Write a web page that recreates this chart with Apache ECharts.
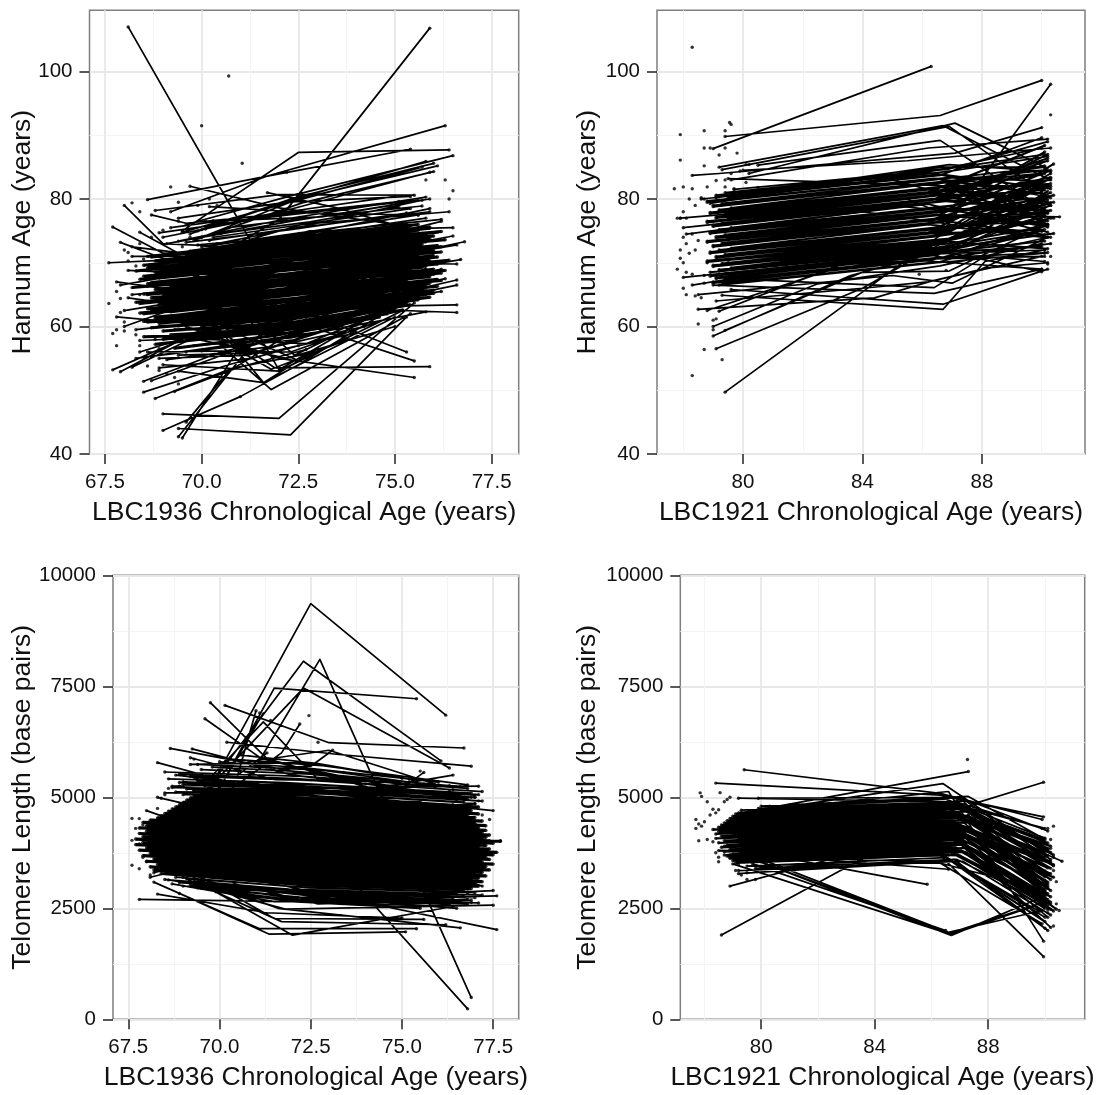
<!DOCTYPE html>
<html><head><meta charset="utf-8">
<script src="https://cdn.jsdelivr.net/npm/echarts@6/dist/echarts.min.js"></script>
<style>html,body{margin:0;padding:0;background:#fff}#c{width:1099px;height:1095px}</style>
</head><body><div id="c"></div>
<script>
// Each row: one participant, [age, value, age, value, (age, value)]
// *Lines = trajectories that stand apart; *Core = the overlapping mass in the middle of each panel
const hannum1936Lines=[
[68.1,107,71.4,72,75,68],[69.5,68,72,76.8,75.9,106.8],[69.2,78,71.7,83.6,76.3,91.5],[69.5,75,72.5,87.3,76.4,87.7],
[68.6,79.9,71.7,83.6,75.4,87.8],[69.6,76,72.3,80.5,76.5,86.8],[69.9,75,72.4,80.2,76,85.6],[69.7,74.5,72.2,79.6,75.8,85.9],
[70,74,72.5,80,76.1,85.2],[69.5,74.8,72.1,79.2,75.7,85],[69.8,73.5,72.6,79.4,76,84.3],[70.1,75.3,72.3,78.4,75.9,84.2],
[68,79,69,73,72.5,72],[69.7,82,72,78.6,75,76],[71.7,81,73.5,78.6,75.5,75],[68.8,78.2,72,80.7,75.5,80.6],
[68.7,77.5,69.6,76.2,72.5,78],[70.2,78.8,72.9,77.8,75.6,77.5],[69.4,77,72.2,79.5,75.4,80.4],[69.2,75.5,72,77.8,75,80.4],
[69,74,71.9,77.5,75.1,79.6],[69.4,73.4,72.2,76.9,75.8,80.3],[69.1,73,72.4,76.6,75.9,80],[68.9,74.7,71.8,77.2,75.6,79.8],
[67.7,75.6,69,71.5,72,71],[67.9,73.2,69.2,70.2,72.4,72],[67.6,70,69.1,70.4,72.4,72],[68.2,72.5,69.4,71.6,72.8,73],
[68.2,71,70,71,73,74],[68.4,74.8,69.4,71.5,72.5,74.5],[76.2,76.5,72.5,71,69.8,66],
[67.7,53.2,69.5,58,72,62],[67.9,52.9,69.8,59,72.5,63],[68.2,53.6,70.2,59.4,72.8,63.6],[68.4,56,70,59,72.4,60],[68.5,51.4,70.5,56,72.6,59],
[68.7,51.5,71,56.5,73,60],[68.5,49.7,70.7,54,72.5,57],[68.8,48.7,70.6,53,72.7,56.4],[69.3,49.8,71,53.7,73,56],
[68.6,56,71.5,56.2,75,63],[68.9,55,71.2,55.5,74.6,62],[69,54,72,53,75.2,62.5],[69.4,53,71.6,51.2,75,61.5],
[70.4,60,71.6,51.2,73,56.5],[70.5,57,71.8,50.1,75.4,62],[69,46.3,72,45.6,75.5,63.7],[69.4,44,72.3,43,75.3,61.5],
[69,43.7,71,49,72.8,55],[69.5,42.5,71,57,74,66],[69.4,42.7,71.4,58,74,63.5],[69.6,45,70.7,53,72.6,60],
[69.8,62,71.9,53.5,75.9,53.7],[69.6,60,72,55,75.5,52],[70,62,73,61.5,75.3,56],[70.4,63,72.8,60,75.5,54.6],
[71,63.7,72,53.2,74.5,62],[71.2,62,72.4,55.5,74,60.2],[70.5,60,72.6,54.4,74.7,62],[70,59.5,71.8,53.3,73.8,58],
[69.5,58.5,72.2,55,75,60],[70,58,72.7,57.3,75.6,64.5],[69.8,57,72.3,58.2,75.8,62.3],[70.2,62,73,63,76.6,62.2],
[70.8,61,73.1,63,76.6,63.4],[70.4,61.8,72.8,62.2,76.2,65.5],[76.6,66.5,73,62,70,60],[76.6,67.3,73.5,63,70.5,59],
[68.1,64.5,71,62,74.8,67],[68,62.5,71.5,66,75.1,71],
[67.9,66.5,71.2,70,76.6,69.8],[67.8,67,70.8,64.5,76.7,70.5],[68,60,70.3,65,76.8,73.3],[68.1,68.8,70.9,68,76.5,74.2],
[67.8,61.5,70.5,60,76.3,67.5],[68.2,65,70,66,76.6,72.8],[68.3,59.5,70.6,61,76.2,69],[76.5,75.5,72.8,75,70,70.5],
[76.4,78,72.6,76,70.3,72],[76.2,76.8,73,74.8,70.2,71.5],[75.9,78.5,73,74.9,70,71.8],[75.7,79.8,72.7,75.8,70.4,73],
[70,72.5,72.9,75,75.6,77.5],[70.2,73.5,72.5,75.5,75.9,78],[69.6,73.2,72.3,75.2,75.3,77.8],[69.9,72.8,73,74.5,75.8,77],
[70.5,74.6,72.8,76.4,75.1,78.8],[70.3,74,72.4,75.8,75.4,78.5],[70.7,75.5,72.7,77,75.7,78.9],[70.1,76.5,73.1,77.2,74.9,79],
[68.7,55.3,71.6,57.5,74.4,60.7],[69.1,54.8,72,57,74.2,60],[69.6,56,72.5,58,74.9,63],[68.4,57.8,70.8,58.4,73.6,60.5],
[68.3,55,70.4,56.8,73.5,59.6],[68.9,53.5,71.3,55,73.9,59.3],[69.4,55.5,71.7,55.9,74,59],[70,56.2,72.3,56,74.5,60.6]
];
const hannum1936Core=[
[69,58,71.8,60,75,62.8],[68.8,57.2,72.1,59.4,74.8,62],[69.3,56.6,71.9,58.6,75.2,62.6],[68.5,58.4,72.4,59,74.6,61.5],
[69.2,58.7,72.5,59.8,75.1,63.2],[69.6,57.8,72.2,60.1,75.4,63.4],
[69,59.3,72.3,60.6,75.3,63.7],[68.7,59.8,72,61.4,75.6,64.2],[69.4,60.1,72.5,61.9,75.9,64.6],[68.9,60.5,72.2,62.3,75.4,64.9],
[68.5,60.8,72.4,62.8,76,65.2],[69.2,61.2,71.9,63,75.7,65.6],[68.8,61.5,72.6,63.5,75.2,65.9],[69.5,61.9,72.1,63.8,76.1,66.3],
[68.4,62.1,72.3,64.2,75.8,66.5],[69.1,62.5,72.7,64.6,75.5,66.9],[68.6,62.8,72,65,76.2,67.2],[69.3,63.2,72.4,65.3,75.3,67.5],
[68.9,63.5,72.2,65.7,75.9,67.8],[68.3,63.8,72.5,66,76,68.2],[69.6,64.1,71.9,66.3,75.6,68.5],[68.7,64.5,72.3,66.7,76.3,68.8],
[69,64.8,72.6,67,75.4,69.1],[68.5,65.1,72.1,67.4,75.8,69.5],[69.4,65.4,72.4,67.7,76.1,69.8],[68.8,65.8,72.2,68,75.5,70.1],
[68.2,66.1,72.7,68.3,76.4,70.4],[69.2,66.4,72,68.7,75.7,70.8],[68.6,66.7,72.3,69,76,71.1],[69.5,67.1,72.5,69.3,75.3,71.4],
[68.4,67.4,72.1,69.7,76.2,71.7],[69,67.7,72.6,70,75.9,72],[68.7,68,72.2,70.3,75.6,72.3],[69.3,68.3,72.4,70.6,76.1,72.7],
[68.3,68.7,71.9,70.9,75.4,73],[68.9,69,72.5,71.3,75.8,73.3],[69.6,69.3,72.3,71.6,76.3,73.6],[68.5,69.6,72,71.9,75.5,73.9],
[69.1,70,72.7,72.2,76,74.2],[68.8,70.3,72.2,72.5,75.7,74.6],[69.4,70.7,72.4,72.9,76.2,74.9],[68.6,71,72.1,73.2,75.3,75.2],
[69.2,71.4,72.6,73.6,75.9,75.6],[69.7,71.8,72.3,73.9,75.6,76],
[69.3,59.5,72.6,60.2,75.1,64.1],[68.9,60,72.2,61,75.5,64.5],[69.5,60.4,71.8,61.6,75.8,65],[68.6,60.7,72.5,62.1,75.2,65.4],
[69.1,61,72,62.6,76,65.7],[68.8,61.3,72.3,63.3,75.4,66.1],[69.6,61.7,72.7,63.4,75.7,66.4],[68.5,62,71.9,64,75.9,66.8],
[69.2,62.3,72.4,64.4,75.3,67.1],[68.7,62.6,72.1,64.8,76.1,67.4],[69.4,63,72.6,65.1,75.6,67.7],[69,63.3,72.3,65.5,75.8,68],
[68.4,63.6,72,65.8,76.2,68.4],[69.5,64,72.5,66.2,75.4,68.7],[68.8,64.3,72.2,66.5,76,69],[69.1,64.6,71.8,66.9,75.7,69.3],
[68.6,65,72.6,67.2,75.5,69.6],[69.3,65.3,72.3,67.5,76.2,70],[68.9,65.6,72,67.9,75.9,70.3],[69.6,66,72.4,68.2,75.3,70.6],
[68.5,66.3,72.7,68.5,76.1,70.9],[69.2,66.6,72.1,68.9,75.6,71.3],[68.7,66.9,72.5,69.2,75.8,71.6],[69.4,67.2,72.2,69.5,76,71.9],
[68.9,67.6,72.6,69.9,75.4,72.2],[68.5,67.9,71.9,70.1,76.2,72.5],[69.2,68.2,72.3,70.5,75.7,72.9],[68.8,68.5,72.5,70.8,75.5,73.2],
[69.5,68.8,72.1,71.1,76,73.5],[68.6,69.2,72.4,71.5,75.9,73.8],[69.1,69.5,72.7,71.8,75.3,74.1],[69.4,69.9,72.2,72.1,75.8,74.4],
[68.9,70.2,72.5,72.4,76.1,74.8],[69.3,70.5,72,72.7,75.6,75.1],[68.7,70.9,72.4,73.1,75.9,75.4],[69.6,71.2,72.7,73.4,75.4,75.8],
[69.5,60.5,72.3,68,75.6,66],[69.2,66,72.4,62,75.8,69],[69.7,70,72.6,66,75.5,71],[69.1,63,72,70,75.9,65.5],
[69.3,71,71.9,65,75.2,74],[69.9,61,72.5,71,75.4,68],[69.6,68.5,72.7,61.5,75.7,72],[69.4,65,72.1,73.5,75.3,76]
];
const hannum1936Dots=[[70.7,99.3],[70,91.5],[71.05,85.6],[69.2,81.9],[72.2,84.2],[75.8,83],[76.3,83],[76.5,81.3],[76.4,80],[68.2,79.4],[68.4,78],[69.4,79.5],[69.9,79],[70.2,80],[70.4,79],[67.6,63.6],[67.8,57],[67.7,58.9],[69.3,52],[69.4,51],[71,49],[68,72],[68.1,70.3],[68.3,69.5],[67.8,65.5],[67.9,64.4],[67.9,62.2],[68,60.7],[68,59.3],[67.8,59.5],[68.3,58.7],[68.4,57],[68.6,53.8],[68.9,53.1],[69.1,52.6],[68.7,74],[69,75.1],[69.4,76.5],[70,75.2],[69.7,74],[70.3,76.6],[69.5,72.5],[68.4,73],[68.1,71.6],[68.5,70.6],[68.6,66.3],[68.4,65],[68.8,58],[68.9,56.5]];

const hannum1921Lines=[
[79.4,89.8,86.6,93.1,90,98.6],[79,87.9,86.3,100.8],[79.4,49.7,86.6,74.3,90.3,98],[79.3,64.9,86.7,62.7,88.1,70.2,90.1,72],
[79.6,65.8,86.7,63.5,90.2,69],[79,66.5,86.4,65.2,90,69],[79.4,67.5,86.4,66.1,88.1,71,90.1,70.2],[79.2,85,86.7,91.5,90.1,83.4],
[80.2,84,87.1,91.9,90.1,85],[79.3,84.6,86.9,91.4,90,81.2],[80.5,85.3,86.6,89.2,90.2,78],[78.3,83.7,79.2,84,87.1,87.2,90,91.2],
[79.6,83,86.2,88,90.2,89.4],[80,84.5,85.5,86,90.3,88],[79.2,79.8,87.1,84.5,90.2,86.7],[78.9,79.3,86.6,85,90.1,85],
[79.5,83.2,87.2,82,90.1,84],[86.7,83,88,82,90.2,87],[79.6,80.5,86.8,84.8,90,88],[79.1,80.2,86.9,85.4,90.3,84.3],
[79.1,56.5,84,66,87,74,90.1,80],[79,58.5,83.6,68,86.5,71.6,90,75],[79.4,59.4,84,68.5,86.9,68.7,90.2,76],[79,60,82.5,66.7,86.6,69.5,90,73],
[78.8,62.5,83,69,86.5,71.4,90.1,72],[79.2,62.4,84,71,87,70,90,69],[78.5,62.7,84.4,64.5,86.3,67.1,90,71],[79.1,64,84,66,86.2,67,88.2,69.2,90.2,70],
[78,67.7,85,71,86.5,72,90,68.6],[78.3,66.5,85.5,72,86.7,70.8,90.2,71.6],[78.5,65,85,68,87,66.8,90.2,74],[78,75.5,85,79,87,78,90.4,79.5],
[77.9,77,85.5,80,86.8,77.5,90.6,77.2],[78.1,74.5,84,78,87,76,90.3,74],[78.6,80,85,83,87.4,80,90.2,82],
[79.2,66.5,86.5,70,90.1,71.5],[79,66.8,86.3,70.4,90,75],[79.5,67.2,86.8,70.8,90.3,73],[79.1,67.5,86.5,71.2,90.2,77.8],
[79.3,66.7,86.6,70.2,90.2,74],[79,67,86.4,70.6,90.1,71],[79.4,67.4,86.9,71,90,76],[79.1,67.7,86.3,71.4,90.3,79],
[79.4,81,86.2,84.3,90.1,87],[79.7,81.5,86.9,84.7,90.2,89],[79.5,80.2,86.6,83.7,90,89.6],[79.1,80.6,86.3,84.1,90.3,80.2]
];
const hannum1921Core=[
[78.9,67.9,86.2,71.5,90,72.5],[79.4,68.3,87,71.9,90.1,78.6],[79.2,68.7,86.6,72.2,90.4,74.6],[79.6,69,86.3,72.6,90,80],
[79,69.4,86.9,73,90.2,75.8],[79.3,69.7,86.5,73.3,90.1,77.2],[78.8,70.1,87.1,73.7,90.3,81],[79.5,70.4,86.4,74.1,90,76.4],
[79.1,70.8,86.7,74.4,90.2,82.2],[79.4,71.1,86.2,74.8,90.1,78],[78.9,71.5,86.9,75.1,90.3,79.4],[79.2,71.8,86.5,75.5,90,83],
[79.6,72.1,87,75.8,90.2,76.6],[79,72.5,86.3,76.2,90.4,80.6],[79.3,72.9,86.8,76.5,90.1,74.4],[78.8,73.2,86.4,76.9,90,81.8],
[79.5,73.6,87.2,77.3,90.2,77.8],[79.1,73.9,86.6,77.6,90.3,84.5],[79.4,74.2,86.2,78,90.1,79],[78.9,74.6,86.9,78.3,90,82.6],
[79.2,75,86.5,78.7,90.2,75.6],[79.6,75.3,87,79,90.1,80.2],[79,75.7,86.3,79.4,90.3,83.4],[79.3,76,86.7,79.7,90,78.4],
[78.8,76.3,86.4,80,90.2,86],[79.5,76.7,87.1,80.4,90.1,81.4],[79.1,77,86.6,80.7,90.4,77],[79.4,77.4,86.2,81.1,90,83.8],
[78.9,77.7,86.9,81.4,90.2,79.6],[79.2,78.1,86.5,81.8,90.1,85.2],[79.6,78.4,87,82.1,90.3,82],[79,78.8,86.3,82.5,90,76.8],
[79.3,79.1,86.8,82.8,90.2,84.6],[78.8,79.5,86.4,83.2,90.1,80.8],[79.5,80,87.2,83.5,90,82.8],[79.1,80.4,86.6,83.9,90.3,81.6],
[79.5,68.1,86.7,71.7,90.1,73.4],[78.9,68.5,87,72.1,90.2,81.2],[79.2,68.9,86.5,72.4,90,75],[79.6,69.2,86.2,72.8,90.3,77],
[79,69.6,86.8,73.2,90.1,82.8],[79.3,69.9,86.4,73.5,90.2,72.2],[78.8,70.3,87.1,73.9,90,79.6],[79.5,70.6,86.6,74.2,90.3,84],
[79.1,71,86.3,74.6,90.1,75.2],[79.4,71.3,86.9,75,90.2,80.4],[78.9,71.7,86.5,75.3,90,77.4],[79.2,72,87,75.7,90.4,85.5],
[79.6,72.3,86.2,76,90.1,74],[79,72.7,86.7,76.4,90.2,82],[79.3,73.1,86.4,76.7,90,78.8],[78.8,73.4,87.2,77.1,90.3,83.2],
[79.5,73.8,86.6,77.5,90.1,76],[79.1,74.1,86.3,77.8,90.2,80],[79.4,74.4,86.8,78.2,90,85.8],[78.9,74.8,86.5,78.5,90.3,78.2],
[79.2,75.2,87,78.9,90.1,87.4],[79.6,75.5,86.2,79.2,90.2,74.8],[79,75.9,86.7,79.6,90,81],[79.3,76.2,86.4,79.9,90.3,83],
[78.8,76.5,87.1,80.2,90.1,77.4],[79.5,76.9,86.6,80.6,90.2,86.4],[79.1,77.2,86.3,80.9,90,80],[79.4,77.6,86.9,81.3,90.3,82.4],
[78.9,77.9,86.5,81.6,90.1,88.4],[79.2,78.3,87,82,90.2,78],[79.6,78.6,86.2,82.3,90,84],[79,79,86.7,82.7,90.3,79],
[79.3,79.3,86.4,83,90.1,85],[78.8,79.7,87.1,83.4,90.2,76]
];
const hannum1921Dots=[[78.3,103.8],[90.3,93.2],[79.55,92],[79.6,91.7],[77.9,90.1],[78.7,90.7],[79.4,90.7],[77.9,86.1],[79.8,87.2],[79.2,86.9],[78.7,85.2],[79.4,88],[77.7,81.6],[78,81.9],[78.3,81.6],[78.8,81.9],[78.3,52.3],[78.7,56.4],[79.3,54.8],[78.5,60.4],[78.7,88],[78.9,88],[80.1,85.4],[80.2,85.4],[79.9,84.4],[79.6,84],[79.4,83],[79.1,82.9],[79.4,81.9],[79.7,81.6],[80.1,82.6],[80.5,81.8],[77.8,77],[77.9,77],[78.1,77],[78,78],[78.2,80],[78.4,79],[78.6,80.2],[78.7,80],[78,74],[78.1,73],[78.3,74.5],[77.9,72],[77.9,70.7],[78,70],[77.8,69],[78.2,71.5],[78.4,72],[78.5,73.5],[78.1,68.5],[78.3,68.2],[78,66],[78.1,65],[78.4,64.8],[78.6,64.5],[78.7,66.8],[78.8,70],[78.7,68],[79,61],[79.1,61.2],[79,59.5],[85.9,68.2],[86.8,68.8],[90.3,71],[90.2,69.8]];

const telomere1936Lines=[
[69.6,5000,72.5,9360,76.2,6850],[69.65,5170,72.3,8065,76.07,5820],[71,5700,72.75,8105,76.9,490],[70,4800,73,3700,76.8,235],
[69.7,5200,72.3,7460,76.3,5660],[70,5200,71.5,7460,75.4,7220],[70.15,7070,73,6230,76.7,6110],[69.75,7130,71.3,5870,74.6,5100],
[69.6,6770,71.15,5870,74,5300],[70,5000,71.7,6000,72.2,6650],[68.65,6100,72.15,5560,76.6,5240],[68.3,5780,71.8,5000,75.5,4900],
[69.25,6090,72,5500,76,5100],[69.2,5890,71.5,5400,75.2,5350],[69.2,5740,72.2,5780,76.8,5280],[70.2,6240,73.2,5970,76.9,5700],
[70.8,5800,73,6060,75.9,5300],[71.5,5650,72.5,5700,73.1,6060],[70,5200,71.2,6900,70,5200],[71.3,6000,70.5,5500,71,6950],
[69.7,5400,71.2,6700,72.7,5400],[68.8,5500,72,5200,77.1,5250],[69,5350,72.3,5250,77,5050],[68.7,5250,71.7,5300,77.1,4920],
[69.3,5150,72.7,5100,77.5,4700],[68.5,5100,71.5,5100,77,5000],[72,5500,74.6,5250,76.4,5500],[72.6,5600,75,5200,75.6,5560],
[67.8,2700,72,2650,75.5,2500],[68.2,3090,71.1,2040,75.4,2040],[68.3,2820,71.3,2400,75,2280],[68.9,2835,71.35,1920,75.1,1970],
[69.4,3100,72,1895,76.4,2540],[69.5,3200,71.5,2270,75.6,2250],[69,3200,71.7,2200,76.2,2130],[70,3300,73,2800,77.6,2020],
[69.3,3180,71.6,2500,76.6,2060],[69.7,2950,71.8,2480,77.5,2570],[68.7,3050,71.5,2650,77.6,2780],[68.5,3150,72.2,2700,77.5,2900],
[69,3000,72.4,2850,76.9,2630],[69.5,2950,72.6,2630,76.4,2540],[70,3000,73.2,2720,76.5,2500],[70.4,3050,72.7,2600,76.8,2700],
[68.3,5000,72,4300,76.8,4800],[68.9,5250,72.3,4500,77,4850],[68,4700,71.8,3600,76.4,4400],[68.2,3300,72.5,4200,77.2,3000],
[68.1,3200,71.6,3900,76.8,2850],[69.3,5450,72.1,4100,75.5,3300],
[69,5060,72.4,5030,76.9,4810],[69.5,5090,72.1,5060,76.4,4835],[68.8,5120,72.6,5090,77,4860],[69.3,5150,71.9,5120,76.7,4890],
[69.1,5185,72.3,5145,77.2,4915],[68.7,5220,72.5,5170,76.5,4945],[69.6,5255,72,5205,76.8,4970],[69,5295,72.7,5230,77,5000],
[68.9,5335,72.2,5265,76.6,5030],[69.4,5375,72.4,5295,77.1,5060],[68.6,5415,71.8,5330,76.9,5095],[69.2,5470,72.6,5375,77.2,5130],
[68.9,5520,72.1,5420,76.4,5170],[68.5,5570,72.3,5470,76.8,5200],[69.5,5625,72.5,5520,75.9,5220],[69.8,5680,72,5590,76.3,5260],
[69.4,5740,72.8,5610,75.6,5300],[70,5800,72.4,5660,76,5340],[70.3,5860,73,5700,75.4,5380],[70.6,5950,72.7,5760,75,5430],
[68.8,3200,72,2990,76.8,2870],[69.1,3170,72.5,2960,77,2850],[68.6,3140,71.9,2930,76.5,2820],[69.3,3110,72.3,2900,77.2,2800],
[68.9,3080,72.6,2870,76.7,2770],[69.6,3050,72.1,2840,77,2740],[69.2,3020,72.4,2810,76.4,2710],[69.8,2990,72.8,2780,76.9,2680],
[69.4,2960,72.2,2750,76.6,2650],[70.1,2930,72.5,2720,77.1,2620],[70.3,2900,72.9,2690,76.3,2590],[69.9,2870,72,2660,76.8,2600]
];
const telomere1936Core=[
[68.9,3260,72.4,3020,76.7,2920],[68.4,3285,72,3060,76.9,2945],[69.1,3310,72.8,3090,76.4,2975],[68.6,3335,71.8,3120,77.1,3000],
[68.2,3360,72.3,3150,76.6,3025],[68.8,3385,72.6,3175,77,3050],[68.5,3410,72,3205,76.8,3075],[68.1,3435,72.5,3230,77.2,3100],
[68.7,3460,71.9,3260,76.5,3130],[68.3,3485,72.4,3290,76.9,3155],[68.9,3510,72.7,3315,77.1,3180],[68.4,3535,72.1,3345,76.7,3205],
[68,3560,72.3,3370,77.3,3230],[68.6,3585,72.6,3400,76.8,3260],[68.2,3610,71.8,3425,77,3285],[68.8,3635,72.4,3455,77.2,3310],
[68.3,3660,72.8,3480,76.6,3335],[67.9,3685,72,3510,77.4,3365],[68.5,3710,72.5,3535,76.9,3390],[68.1,3735,72.2,3565,77.1,3415],
[68.7,3760,72.7,3590,77.3,3440],[68.2,3785,71.9,3620,76.8,3470],[67.8,3810,72.3,3645,77.5,3495],[68.4,3835,72.6,3675,77,3520],
[68,3860,72.1,3700,77.2,3545],[68.6,3885,72.4,3730,76.7,3575],[68.2,3910,72.8,3755,77.4,3600],[67.7,3935,72,3785,77.1,3625],
[68.3,3960,72.5,3810,77.3,3650],[67.9,3985,72.2,3840,76.9,3680],[68.5,4010,72.7,3865,77.5,3705],[68.1,4035,71.8,3895,77,3730],
[67.7,4060,72.3,3920,77.6,3760],[68.3,4085,72.6,3950,77.2,3785],[67.9,4110,72.1,3975,76.8,3810],[68.5,4135,72.4,4005,77.4,3835],
[68.1,4160,72.8,4030,77.7,4010],[67.8,4185,72,4060,77.1,3890],[68.4,4210,72.5,4085,77.3,3915],[68,4235,72.2,4115,76.9,3940],
[68.6,4260,72.7,4140,77.5,3965],[68.1,4285,71.9,4170,77,3995],[67.8,4310,72.3,4195,77.4,4020],[68.4,4335,72.6,4225,77.2,4045],
[68,4360,72.1,4250,76.8,4070],[68.6,4385,72.4,4280,77.3,4100],[68.2,4410,72.8,4305,77,4125],[67.9,4435,72,4335,77.4,4150],
[68.5,4460,72.5,4360,76.9,4175],[68.1,4485,72.2,4390,77.2,4205],[68.7,4510,72.7,4415,77,4230],[68.3,4535,71.8,4445,77.3,4255],
[68.8,4560,72.3,4470,76.7,4280],[68.4,4585,72.6,4500,77.1,4310],[68.9,4610,72.1,4525,76.9,4335],[68.5,4635,72.4,4555,77.3,4360],
[69,4660,72.8,4580,76.6,4385],[68.6,4685,72,4610,77,4415],[69.1,4710,72.5,4635,76.8,4440],[68.7,4735,72.2,4665,77.2,4465],
[69.2,4760,72.7,4690,76.5,4490],[68.8,4785,71.9,4720,76.9,4520],[69.3,4810,72.3,4745,77,4545],[68.9,4835,72.6,4775,76.6,4570],
[69.4,4860,72.1,4800,76.8,4595],[69,4885,72.4,4830,77.1,4625],[69.5,4910,72.8,4855,76.4,4650],[69.1,4935,72,4885,76.7,4675],
[69.6,4960,72.5,4910,76.9,4700],[69.2,4985,72.2,4940,76.3,4730],[69.7,5010,72.7,4965,76.6,4755],[69.3,5035,71.9,4995,77.1,4780]
];
const telomere1936Dots=[[72.45,6840],[72.7,6240],[71.1,6900],[71.4,6730],[67.6,4525],[67.8,4520],[67.6,4030],[67.6,3470],[67.8,3390],[67.7,4300],[67.9,4380],[67.8,3950],[67.9,3650],[68,3550],[68.1,3250],[68.3,4750],[68.4,4980],[68.5,5060],[68.6,5200],[69.3,5860],[73.4,5560],[75.5,5590],[76.3,5150],[72.2,5560],[76.9,5000],[77.2,4600],[77.4,4500],[77.7,4020]];

const telomere1921Lines=[
[78.6,1900,86.7,4700,89.95,5340],[79.4,5620,86.3,5090,89.9,4500],[78.4,5320,86.3,5050,89.95,4560],[80,4700,86.4,5310,89.9,3800],
[79.3,4650,87.3,5580],[79.7,4700,86.6,5130,89.95,1760],[79,4500,86.2,3760,89.95,1410],[79.2,4980,86.5,4900,90,4300],
[79.9,4980,87,5000,90.1,4240],[80,4800,87.3,5020,89.95,4070],[79,3500,86.6,1930,89.8,2600],[79.9,3560,86.7,1890,89.7,2700],
[79.6,3640,86.75,1920,89.6,2550],[80.1,3580,86.6,1960,89.9,2450],[79.7,3500,86.5,2000],[78.9,3000,82.4,3600,86.6,3700],
[80.45,3680,85.85,3040],[79.9,3700,86.6,3380],[79.5,3300,86.7,3560,90,2050],[79.2,3280,86.8,3600,90.1,2000],
[79,3650,86.2,3560,89.9,2150],[78.7,3700,86.5,4250,90.2,2070],[78.7,3900,86.9,4600,90.6,3560],[86.9,4930,89.5,3300,90.1,2470],
[78.9,3700,86.3,3720,89.8,2430],[79.6,4680,86.9,4890,89.9,4300],[79.3,4710,87.2,4920,90.2,3600],[79.9,4750,86.5,4960,90,4080],[80.3,4800,87,4990,90.1,3000],
[79.5,3450,86.5,3640,90,2300],[79.8,3400,86.9,3600,89.9,2650],[79.2,3350,87.1,3560,90.2,2350],[80.2,3480,86.3,3520,90,2900],
[87,4200,88.6,3300,90.2,2600],[87.3,4600,88.8,3600,90.1,3050],[87.1,4450,89,3400,90,2750],[86.9,4050,88.4,3200,90.1,2300]
];
const telomere1921Core=[
[79.1,3525,86.4,3700,90,2200],[78.5,3800,87,3690,90,2500],[79.4,3550,87.2,3770,90.3,2440],
[79,3575,86.6,3785,90.1,2620],[79.3,3600,87,3810,90.2,2480],[78.9,3625,86.5,3840,89.9,2700],[79.2,3650,87.3,3860,90.1,2550],
[78.8,3675,86.7,3890,90,2780],[79.4,3700,86.3,3915,90.2,2640],[79,3725,87.1,3935,89.9,2850],[79.3,3750,86.6,3965,90.1,2700],
[78.7,3775,87.4,3985,90,2920],[79.2,3800,86.4,4015,90.2,2760],[78.9,3825,87,4035,90.4,2480],[79.4,3850,86.8,4060,90,2990],
[78.6,3875,87.2,4085,90.1,2830],[79.1,3900,86.5,4110,89.9,3060],[78.8,3925,87.3,4135,90.2,2900],[79.3,3950,86.7,4160,90,3130],
[78.5,3975,87.1,4185,90.1,2960],[79,4000,86.4,4210,90.3,3200],[78.7,4025,87.4,4235,90,3020],[79.2,4050,86.9,4260,90.2,3280],
[78.4,4075,87.2,4285,90.1,3090],[78.9,4100,86.6,4310,89.9,3340],[78.6,4125,87.3,4335,90.2,3150],[79.1,4150,86.8,4360,90.1,3410],
[78.4,4175,87,4385,90,3210],[78.8,4200,86.5,4410,90.3,3480],[78.5,4225,87.4,4435,90.1,3280],[79,4250,86.7,4460,90.2,3550],
[78.3,4275,87.2,4485,90,3340],[78.7,4300,86.4,4510,89.9,3620],[78.5,4325,87.1,4535,90.2,3400],[78.9,4350,86.9,4560,90.1,3690],
[78.6,4375,87.3,4585,90.3,3460],[79.1,4400,86.6,4610,90,3760],[78.7,4425,87,4635,90.2,3520],[79,4450,86.8,4660,90.1,3830],
[78.8,4475,87.4,4685,89.9,3580],[79.2,4500,86.5,4710,90.2,3900],[78.9,4525,87.1,4735,90,3640],[79.3,4550,86.9,4760,90.1,3970],
[79,4575,87.2,4785,90.3,3700],[79.4,4600,86.7,4810,90,4040],[79.1,4625,87,4835,90.2,3760],[79.2,4650,86.6,4860,90.1,3850]
];
const telomere1921Dots=[[87.27,5850],[77.85,5100],[77.9,5020],[78.55,5105],[78.9,5000],[78.8,4950],[78.7,4900],[78.1,4900],[78.3,4730],[78.4,4650],[78.5,4720],[78.2,4600],[77.7,4500],[77.8,4400],[77.7,4300],[77.9,4350],[78,4450],[77.8,4020],[78.1,4050],[78.3,4000],[78.4,3750],[78.5,3650],[78.5,3550],[78.9,3650],[79.1,3350],[79.3,3250],[79.5,3150],[79.2,3500],[80,3550],[79.8,3150],[90.1,4300],[90.3,4350],[90.2,4050],[90.3,3650],[90.2,3850],[90.3,3350],[90.4,3100],[90.5,2450],[90.3,2100],[90.1,2400],[90.4,2600]];

const age1936Ticks=[67.5,70,72.5,75,77.5];
const age1936Minor=[68.75,71.25,73.75,76.25];
const age1921Ticks=[80,84,88];
const age1921Minor=[78,82,86,90];
const hannumTicks=[40,60,80,100];
const hannumMinor=[50,70,90];
const telomereTicks=[0,2500,5000,7500,10000];
const telomereMinor=[1250,3750,6250,8750];

const panels=[
 {box:[89.5,10.3,429.2,443.7],xr:[67.1,78.2],yr:[40,109.6],xt:age1936Ticks,xm:age1936Minor,yt:hannumTicks,ym:hannumMinor,xn:'LBC1936 Chronological Age (years)',yn:'Hannum Age (years)',gap:53,lines:hannum1936Lines,core:hannum1936Core,cw:3,dots:hannum1936Dots,fx:1},
 {box:[657,10.3,428,443.7],xr:[77.12,91.45],yr:[40,109.6],xt:age1921Ticks,xm:age1921Minor,yt:hannumTicks,ym:hannumMinor,xn:'LBC1921 Chronological Age (years)',yn:'Hannum Age (years)',gap:56,lines:hannum1921Lines,core:hannum1921Core,cw:2,dots:hannum1921Dots,fx:0},
 {box:[113,575.3,405.7,444],xr:[67.08,78.2],yr:[0,10000],xt:age1936Ticks,xm:age1936Minor,yt:telomereTicks,ym:telomereMinor,xn:'LBC1936 Chronological Age (years)',yn:'Telomere Length (base pairs)',gap:77,lines:telomere1936Lines,core:telomere1936Core,cw:3.2,dots:telomere1936Dots,fx:1},
 {box:[680.3,575.3,404.4,444],xr:[77.15,91.4],yr:[0,10000],xt:age1921Ticks,xm:age1921Minor,yt:telomereTicks,ym:telomereMinor,xn:'LBC1921 Chronological Age (years)',yn:'Telomere Length (base pairs)',gap:79,lines:telomere1921Lines,core:telomere1921Core,cw:2.3,dots:telomere1921Dots,fx:0}
];
const FONT='"Liberation Sans", Arial, sans-serif';
const grid=[],xAxis=[],yAxis=[],series=[];
const toPath=rows=>{const path=[];rows.forEach(r=>{for(let k=0;k<r.length;k+=2)path.push([r[k],r[k+1]]);path.push([r[0],null]);});return path;};
panels.forEach((p,i)=>{
 grid.push({left:p.box[0],top:p.box[1],width:p.box[2],height:p.box[3],show:true,backgroundColor:'transparent',borderColor:'#7f7f7f',borderWidth:1.5});
 const ax=(r,t,isX,name,gap)=>({gridIndex:i,type:'value',min:r[0],max:r[1],
   axisLine:{show:false},
   axisTick:{show:true,length:10,customValues:t,lineStyle:{color:'#222',width:1.5}},
   axisLabel:{show:true,customValues:t,margin:isX?18:17,fontFamily:FONT,fontSize:20.5,color:'#111',hideOverlap:false,
     formatter:v=>isX&&p.fx?v.toFixed(1):String(v)},
   splitLine:{show:true,lineStyle:{color:'#e8e8e8',width:1.8}},minorSplitLine:{show:false},
   name,nameLocation:'middle',nameGap:gap,nameMoveOverlap:false,nameTextStyle:{fontFamily:FONT,fontSize:26.5,color:'#111'}});
 const minor=(r,t)=>({gridIndex:i,type:'value',min:r[0],max:r[1],axisLine:{show:false},
   axisTick:{show:false,customValues:t},axisLabel:{show:false,customValues:t},
   splitLine:{show:true,lineStyle:{color:'#f4f4f4',width:1}}});
 xAxis.push(ax(p.xr,p.xt,true,p.xn,45));yAxis.push(ax(p.yr,p.yt,false,p.yn,p.gap));
 xAxis.push(minor(p.xr,p.xm));yAxis.push(minor(p.yr,p.ym));
 const common={type:'line',xAxisIndex:i*2,yAxisIndex:i*2,showSymbol:false,symbol:'none',connectNulls:false,clip:true,animation:false,silent:true,z:5};
 series.push({...common,data:toPath(p.lines),lineStyle:{color:'#000',width:1.7,join:'round'}});
 series.push({...common,data:toPath(p.core),lineStyle:{color:'#000',width:p.cw,join:'round'}});
 const ends=[];
 p.lines.concat(p.core).forEach(r=>{ends.push([r[0],r[1]]);ends.push([r[r.length-2],r[r.length-1]]);});
 series.push({type:'scatter',xAxisIndex:i*2,yAxisIndex:i*2,data:ends.concat(p.dots),symbolSize:3.4,itemStyle:{color:'#000'},animation:false,silent:true,z:6});
});
const chart=echarts.init(document.getElementById('c'),null,{renderer:'canvas'});
chart.setOption({animation:false,backgroundColor:'#fff',grid,xAxis,yAxis,series});
</script></body></html>
